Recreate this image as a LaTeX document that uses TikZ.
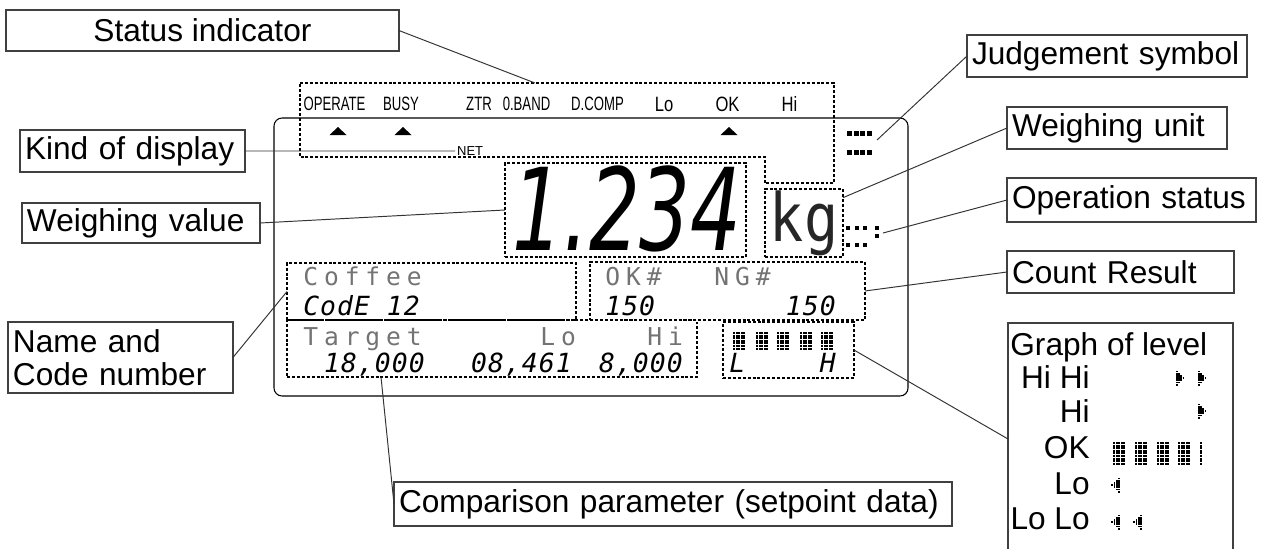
\documentclass[tikz,border=0pt]{standalone}
\usepackage{fontspec}
\setmainfont{Liberation Sans}
\newfontfamily\narrowfont[FakeStretch=0.68]{Liberation Sans}
\newfontfamily\judgfont[FakeStretch=0.8]{Liberation Sans}
\newfontfamily\bigsegfont[FakeStretch=0.7]{DejaVu Sans}
\newfontfamily\dotfont[LetterSpace=24]{DejaVu Sans Mono}
\newfontfamily\segfont[LetterSpace=4]{DejaVu Sans Mono}
\newfontfamily\kgfont[FakeStretch=0.85]{DejaVu Sans Mono}
\usetikzlibrary{positioning}

% block of small lcd dots: x, y, columns, rows
\newcommand{\dotblock}[4]{%
  \foreach \i in {1,...,#3}{\foreach \j in {1,...,#4}{%
    \fill ({#1+(\i-1)*2.6},{#2+(\j-1)*2.6}) rectangle ++(2.0,2.0);}}}
% dotted level arrows (right / left)
\newcommand{\rarrow}[2]{%
  \foreach \c in {0,...,3}{\foreach \r in {-3,...,3}{%
    \pgfmathtruncatemacro{\ok}{abs(\r)<=3-\c}%
    \ifnum\ok=1 \fill ({#1+\c*2.2},{#2+\r*2.2-0.8}) rectangle ++(1.7,1.7);\fi}}}
\newcommand{\larrow}[2]{%
  \foreach \c in {0,...,3}{\foreach \r in {-3,...,3}{%
    \pgfmathtruncatemacro{\ok}{abs(\r)<=3-\c}%
    \ifnum\ok=1 \fill ({#1-\c*2.2},{#2+\r*2.2-0.8}) rectangle ++(1.7,1.7);\fi}}}

\begin{document}
\begin{tikzpicture}[x=0.02cm, y=-0.02cm,
    lbl/.style={draw=black!75, line width=0.7pt, inner xsep=0.1cm, inner ysep=0pt, outer sep=0pt,
      anchor=north west, align=left, font=\fontsize{18}{18.8}\selectfont},
    lead/.style={draw=black!80, line width=0.55pt},
    dotline/.style={line width=1.6pt, dash pattern=on 1.7pt off 1.1pt},
    dotbox/.style={draw, dotline, inner sep=0pt, outer sep=0pt, anchor=north west},
    stxt/.style={font=\narrowfont\fontsize{11}{11}\selectfont, inner sep=0pt},
    jtxt/.style={font=\judgfont\fontsize{11.8}{12}\selectfont, inner sep=0pt},
    dtxt/.style={font=\dotfont\fontsize{14}{14}\selectfont, text=black!55, inner sep=0pt, anchor=base west},
    sgtxt/.style={font=\segfont\itshape\fontsize{15}{15}\selectfont, inner sep=0pt, anchor=base west},
    gtxt/.style={font=\fontsize{18}{18.8}\selectfont, inner sep=0pt}
  ]
  \useasboundingbox (0,0) rectangle (1263,548);

  % lcd panel
  \draw[line width=0.6pt, rounded corners=0.16cm] (274,118) rectangle (908,396);
  \draw[dotline] (300,83) -- (834,83) -- (834,183) -- (765,183) -- (765,157) -- (300,157) -- cycle;

  % status indicators
  \foreach \t/\x [count=\k] in {OPERATE/334.5, BUSY/401, ZTR/479, 0.BAND/526.5, D.COMP/597.5}
    \node[stxt] (st\k) at (\x,104) {\t};
  \foreach \t/\x [count=\k] in {Lo/664, OK/727.5, Hi/789.5}
    \node[jtxt] (sj\k) at (\x,104) {\t};
  \foreach \x in {338,403,729}
    \fill (\x-8.5,135) -- (\x+8.5,135) -- (\x,127) -- cycle;
  \node[font=\fontsize{7.4}{8}\selectfont, inner sep=1pt, anchor=west] (net) at (455,151) {NET};

  % weighing value and unit
  \node[dotbox, minimum width=4.82cm, minimum height=1.88cm] (wvbox) at (505,163) {};
  \node[font=\bigsegfont\itshape\fontsize{65}{65}\selectfont, anchor=base east, inner sep=0pt] (wvtxt) at (742,250) {1.234};
  \node[dotbox, minimum width=1.56cm, minimum height=1.36cm, text=black!85,
    font=\kgfont\fontsize{38}{38}\selectfont] (kgbox) at (765,189) {kg};

  % judgement symbol and operation status
  \foreach \y in {131,150}
    \foreach \x in {847,853.7,860.4,867.1}
      \fill (\x,\y) rectangle ++(4.8,5);
  \foreach \x/\y in {846/226,855/226,863/226,875/226,875/234,846/243,855/243,863/243}
    \fill (\x,\y) rectangle ++(4,4);

  % name, count, comparison, level
  \node[dotbox, minimum width=5.78cm, minimum height=1.14cm] (cofbox) at (287,263) {};
  \node[dotbox, minimum width=5.5cm, minimum height=1.16cm] (cntbox) at (590,262) {};
  \node[dotbox, minimum width=8.2cm, minimum height=1.14cm] (tgtbox) at (287,320) {};
  \node[dotbox, minimum width=2.62cm, minimum height=1.12cm] (lgbox) at (723,322) {};

  \node[dtxt] (coffee) at (303,285) {Coffee};
  \node[sgtxt] (code) at (303,315) {CodE 12};
  \node[dtxt] (okn) at (605,285) {OK\#};
  \node[dtxt] (ngn) at (714,285) {NG\#};
  \node[sgtxt] (okcnt) at (605,315) {150};
  \node[sgtxt, anchor=base east] (ngcnt) at (836,315) {150};
  \node[dtxt] (tgt) at (303,345) {Target};
  \node[dtxt] (tlo) at (540,345) {Lo};
  \node[dtxt] (thi) at (647,345) {Hi};
  \node[sgtxt, anchor=base east] (tval) at (425,372) {18,000};
  \node[sgtxt, anchor=base east] (loval) at (572,372) {08,461};
  \node[sgtxt, anchor=base east] (hival) at (683,372) {8,000};
  \foreach \x in {733,756,777,800,821}
    \dotblock{\x}{332}{5}{7};
  \node[sgtxt] (lgl) at (729,372) {L};
  \node[sgtxt, anchor=base east] (lgh) at (836,372) {H};

  % labels
  \node[lbl, minimum width=7.86cm, minimum height=0.82cm, align=center] (stat) at (6,10) {Status indicator};
  \node[lbl, minimum width=5.6cm, text width=5.4cm, minimum height=0.84cm] (judg) at (967,35) {Judgement symbol};
  \node[lbl, minimum width=4.4cm, text width=4.2cm, minimum height=0.84cm] (wunit) at (1007,107) {Weighing unit};
  \node[lbl, minimum width=4.98cm, text width=4.78cm, minimum height=0.88cm] (opstat) at (1007,178) {Operation status};
  \node[lbl, minimum width=4.54cm, text width=4.34cm, minimum height=0.84cm] (count) at (1007,251) {Count Result};
  \node[lbl, minimum width=4.5cm, minimum height=4.64cm] (graph) at (1008,323) {};
  \node[lbl, minimum width=4.5cm, text width=4.3cm, minimum height=0.84cm] (kind) at (20,130) {Kind of display};
  \node[lbl, minimum width=4.76cm, text width=4.56cm, minimum height=0.8cm] (wval) at (22,203) {Weighing value};
  \node[lbl, minimum width=4.5cm, text width=4.3cm, minimum height=1.42cm] (name) at (8,322) {Name and\\Code number};
  \node[lbl, minimum width=11.16cm, text width=10.96cm, minimum height=0.88cm] (comp) at (394,482) {Comparison parameter (setpoint data)};

  % graph of level legend
  \node[gtxt, anchor=base west] (gtitle) at (1010,355) {Graph of level};
  \foreach \t/\y [count=\k] in {Hi Hi/388, Hi/422, OK/458, Lo/494, Lo Lo/529}
    \node[gtxt, anchor=base east] (grow\k) at (1090,\y) {\t};
  \rarrow{1176}{378} \rarrow{1198}{378}
  \rarrow{1198}{411}
  \foreach \x in {1113,1135,1157,1178}
    \dotblock{\x}{442}{5}{9};
  \dotblock{1200}{442}{1}{9}
  \larrow{1118}{485}
  \larrow{1118}{522} \larrow{1140}{522}

  % leaders
  \coordinate (stpt) at (535,83);
  \coordinate (jdpt) at (877,140);
  \coordinate (oppt) at (883,233);
  \coordinate (cmppt) at (381,377);
  \draw[lead] (stat.east) -- (stpt);
  \draw[lead] (judg.west) -- (jdpt);
  \draw[lead] (wunit.west) -- (kgbox.33);
  \draw[lead] (opstat.west) -- (oppt);
  \draw[lead] (count.west) -- (cntbox.east);
  \draw[lead] (graph.west) -- (lgbox.east);
  \draw[lead] (kind.east) -- (net.west);
  \draw[lead] (wval.east) -- (wvbox.west);
  \draw[lead] (name.east) -- (cofbox.west);
  \draw[lead] (cmppt) -- (comp.west);
\end{tikzpicture}
\end{document}
